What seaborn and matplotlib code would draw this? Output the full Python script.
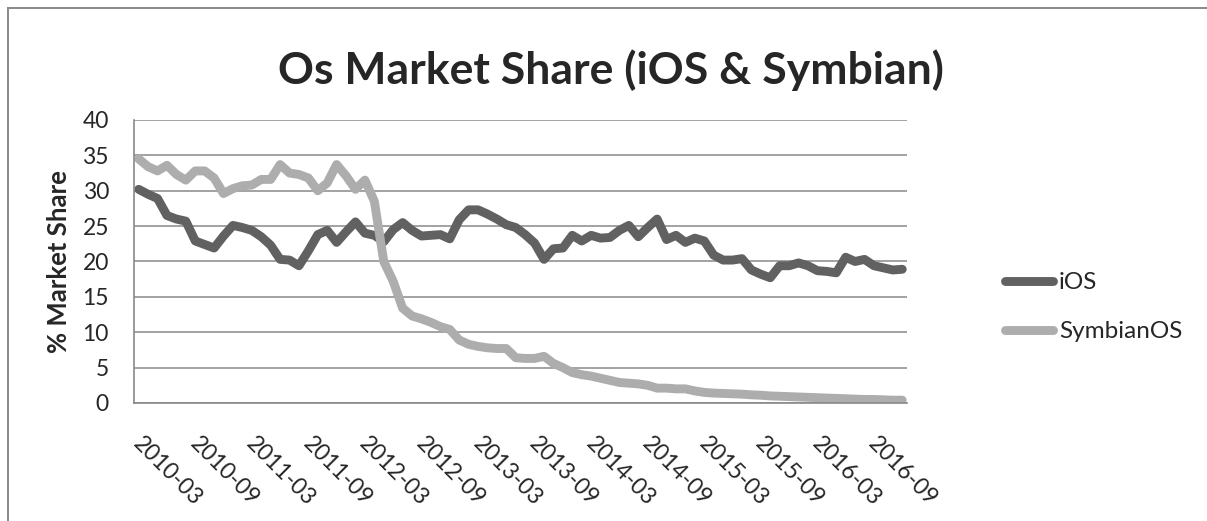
import numpy as np
import pandas as pd
import seaborn as sns
import matplotlib.pyplot as plt
from matplotlib.patches import Rectangle
from matplotlib.transforms import ScaledTranslation

# ─────────────────────────────────────────
# Data (monthly share, %)
# ─────────────────────────────────────────
months = [str(p) for p in pd.period_range("2010-03", "2016-12", freq="M")]

ios = [30.2, 29.5, 28.9, 26.5, 26.0, 25.7, 22.9, 22.4, 21.9, 23.6,
       25.1, 24.8, 24.4, 23.5, 22.3, 20.3, 20.2, 19.4, 21.5, 23.8,
       24.4, 22.7, 24.2, 25.6, 24.0, 23.7, 22.8, 24.5, 25.5, 24.4,
       23.6, 23.7, 23.8, 23.2, 25.9, 27.3, 27.3, 26.7, 26.0, 25.2,
       24.8, 23.8, 22.6, 20.3, 21.8, 21.9, 23.7, 22.9, 23.7, 23.3,
       23.4, 24.4, 25.1, 23.5, 24.8, 26.0, 23.1, 23.7, 22.7, 23.3,
       22.9, 20.9, 20.2, 20.2, 20.4, 18.8, 18.2, 17.7, 19.4, 19.4,
       19.8, 19.4, 18.7, 18.6, 18.4, 20.6, 20.0, 20.3, 19.4, 19.1,
       18.8, 18.9]

symbian = [34.5, 33.4, 32.8, 33.6, 32.3, 31.5, 32.8, 32.8, 31.8, 29.6,
           30.3, 30.7, 30.8, 31.6, 31.6, 33.7, 32.5, 32.3, 31.8, 30.0,
           31.1, 33.7, 32.1, 30.2, 31.5, 28.5, 20.0, 17.2, 13.4, 12.3,
           11.9, 11.4, 10.8, 10.4, 8.9, 8.3, 8.0, 7.8, 7.7, 7.7,
           6.4, 6.3, 6.3, 6.6, 5.6, 5.0, 4.3, 4.0, 3.8, 3.5,
           3.2, 2.9, 2.8, 2.7, 2.5, 2.1, 2.1, 2.0, 2.0, 1.7,
           1.5, 1.4, 1.35, 1.3, 1.25, 1.15, 1.1, 1.0, 0.95, 0.9,
           0.85, 0.8, 0.75, 0.7, 0.65, 0.6, 0.55, 0.5, 0.5, 0.45,
           0.4, 0.4]

series_names = ["iOS", "SymbianOS"]
tick_labels = months[::6]
y_ticks = list(range(0, 41, 5))

df = pd.DataFrame({
    "month": months * 2,
    "share": ios + symbian,
    "os": [series_names[0]] * len(months) + [series_names[1]] * len(months),
})

# ─────────────────────────────────────────
# Style
# ─────────────────────────────────────────
sns.set_style("white")
plt.rcParams["font.family"] = ["Lato", "DejaVu Sans"]

grid_col = "#898989"
palette = {"iOS": "#616161", "SymbianOS": "#ADADAD"}

fig = plt.figure(figsize=(12.07, 5.21), dpi=100)
ax = fig.add_axes([0.111, 0.2265, 0.6404, 0.5432])

sns.lineplot(data=df, x="month", y="share", hue="os", palette=palette,
             sort=False, linewidth=6.4, ax=ax, legend=True)
for ln in ax.get_lines():
    ln.set_solid_capstyle("round")
    ln.set_solid_joinstyle("round")

ax.set_xlim(-0.5, len(months) - 0.5)
ax.set_ylim(0, 40)
ax.set_yticks(y_ticks)
ax.yaxis.grid(True, color=grid_col, linewidth=1.1)
ax.set_axisbelow(True)

ax.set_xticks(range(0, len(months), 6))
ax.set_xticklabels(tick_labels, rotation=-45, ha="left", va="center",
                   rotation_mode="anchor", fontsize=16.5)
ax.set_xticks(np.arange(-0.5, len(months), 1), minor=True)
ax.tick_params(axis="x", which="major", length=0, pad=27)
ax.tick_params(axis="x", which="minor", direction="inout", length=12,
               width=1.3, color=grid_col)
ax.tick_params(axis="y", length=0, pad=18, labelsize=16.5)
off = ScaledTranslation(-0.02, 0, fig.dpi_scale_trans)
for lab in ax.get_xticklabels():
    lab.set_transform(lab.get_transform() + off)

ax.set_xlabel("")
ax.set_ylabel("% Market Share", fontsize=18.5, fontweight="bold", labelpad=8)

for side in ["top", "right"]:
    ax.spines[side].set_visible(False)
for side in ["left", "bottom"]:
    ax.spines[side].set_color(grid_col)
    ax.spines[side].set_linewidth(1.2)

# legend on the right
handles, labels = ax.get_legend_handles_labels()
ax.get_legend().remove()
for h in handles:
    h.set_linewidth(6.4)
    h.set_solid_capstyle("round")
fig.legend(handles, labels, loc="center left",
           bbox_to_anchor=(0.833, 0.41), frameon=False, fontsize=17.5,
           handlelength=1.95, handletextpad=0.25, labelspacing=1.15,
           borderpad=0, borderaxespad=0)

fig.text(0.506, 0.838, "Os Market Share (iOS & Symbian)", ha="center",
         va="baseline", fontsize=32, fontweight="bold")

# outer chart border (left and top edges visible)
fig.add_artist(Rectangle((7.5 / 1207, -0.5), 1.5, 1.5 - 8 / 521,
                         transform=fig.transFigure, fill=False,
                         edgecolor=grid_col, linewidth=1.4, clip_on=False))

plt.savefig("out.png", dpi=100)
